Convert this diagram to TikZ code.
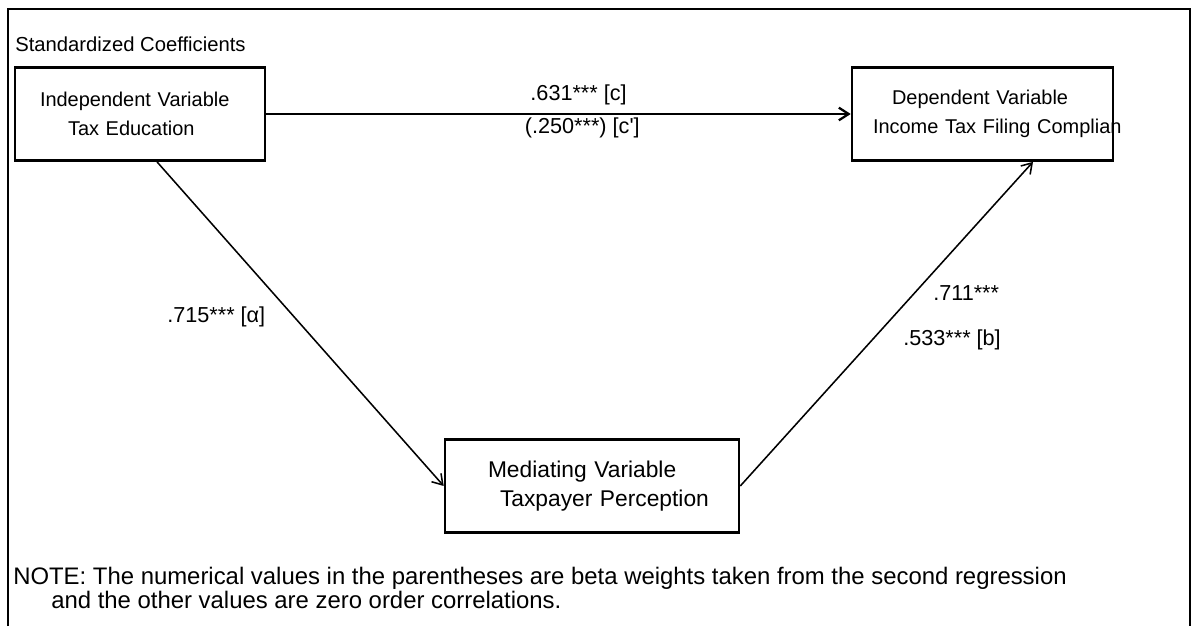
\documentclass[tikz,border=0pt]{standalone}
\usepackage{fontspec}
\setmainfont{Liberation Sans}
\usetikzlibrary{arrows.meta}

\begin{document}
\begin{tikzpicture}[
		varbox/.style={draw, line width=1.8pt, align=left, minimum height=2.33cm, font=\fontsize{14.2pt}{20.6pt}\selectfont},
		coef/.style={anchor=west, inner sep=0pt, font=\fontsize{15.4pt}{17pt}\selectfont},
		pathline/.style={line width=1.1pt, -{Straight Barb[length=7pt, width=9pt]}}
	]
		%%%%% START %%%%%
		
		\useasboundingbox (0, 0) rectangle (29.8, 15.65);
		\draw[line width=1.2pt] (0.2, 0) -- (0.2, 15.425) -- (29.75, 15.425) -- (29.75, 0);
		
		\node[anchor=west, inner sep=0pt, font=\fontsize{14.4pt}{17pt}\selectfont] (title) at (0.375, 14.55) {Standardized Coefficients};
		
		\node[varbox, text width=5.0cm, inner xsep=0.625cm] (indep) at (3.5, 12.8) {Independent Variable\\\hspace*{0.7cm}Tax Education};
		\node[varbox, text width=5.475cm, inner xsep=0.525cm] (dep) at (24.5625, 12.8) {\hspace*{0.475cm}Dependent Variable\\\mbox{Income Tax Filing Complian}};
		\node[varbox, text width=6.2cm, inner xsep=0.575cm, font=\fontsize{16.2pt}{20.6pt}\selectfont] (med) at (14.8, 3.5) {\hspace*{0.5cm}Mediating Variable\\\hspace*{0.8cm}Taxpayer Perception};
		
		\draw[pathline, line width=1.6pt] (indep) -- (dep);
		\node[coef, anchor=east] (lblc) at (15.675, 13.275) {.631*** [c]};
		\node[coef, anchor=east] (lblcp) at (16.0, 12.45) {(.250***) [c\textquotesingle]};
		
		\draw[pathline] ([xshift=0.425cm]indep.south) -- (med.west);
		\node[coef] (lbla) at (4.175, 7.725) {.715*** [α]};
		
		\draw[pathline] (med.east) -- ([xshift=1.2625cm]dep.south);
		\node[coef] (lblr) at (23.325, 8.325) {.711***};
		\node[coef] (lblb) at (22.575, 7.15) {.533*** [b]};
		
		\node[anchor=west, inner sep=0pt, align=left, font=\fontsize{17pt}{14.2pt}\selectfont] (note) at (0.325, 0.95) {NOTE: The numerical values in the parentheses are beta weights taken from the second regression\\\hspace*{0.95cm}and the other values are zero order correlations.};
		
		%%%%% END %%%%%
\end{tikzpicture}
\end{document}
